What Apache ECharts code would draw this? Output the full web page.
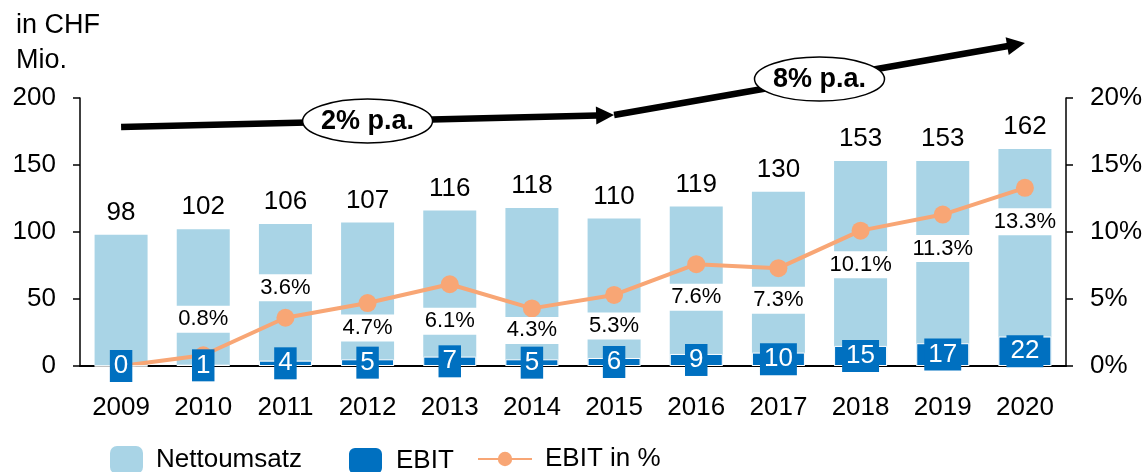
<!DOCTYPE html>
<html>
<head>
<meta charset="utf-8">
<script src="https://cdn.jsdelivr.net/npm/echarts@6/dist/echarts.min.js"></script>
<style>
    html, body { margin: 0; padding: 0; background: #fff; }
    #chart { width: 1148px; height: 472px; }
</style>
</head>
<body>
<div id="chart"></div>
<script>
var years = ['2009', '2010', '2011', '2012', '2013', '2014', '2015', '2016', '2017', '2018', '2019', '2020'];
var umsatz = [98, 102, 106, 107, 116, 118, 110, 119, 130, 153, 153, 162];
var ebit = [0, 1, 4, 5, 7, 5, 6, 9, 10, 15, 17, 22];
var ebitPct = [0, 0.8, 3.6, 4.7, 6.1, 4.3, 5.3, 7.6, 7.3, 10.1, 11.3, 13.3];

// trend arrows, in data units of the left axis
var trendLabels = ['2% p.a.', '8% p.a.'];
var trendFrom = [['2009', 178.4], ['2015', 187.3]];
var trendTo = [['2015', 187.3], ['2020', 241]];

// vertical shift of the % labels against their point (px)
var pctLabelShift = [0, -36, -30, 25, 37, 22, 31, 33, 32, 34, 34, 34];

var FONT = "'Liberation Sans', Arial, sans-serif";
var chart = echarts.init(document.getElementById('chart'));

var pctData = [];
for (var i = 0; i < ebitPct.length; i++) {
    pctData.push({
        value: ebitPct[i],
        label: {
            show: i > 0,
            position: 'inside',
            offset: [0, pctLabelShift[i]]
        }
    });
}

var legendText = { fontFamily: FONT, fontSize: 26, color: '#000', padding: [0, 0, 0, 8] };

var option = {
    animation: false,
    title: {
        text: 'in CHF\nMio.',
        left: 11,
        top: 3,
        textStyle: {
            fontFamily: FONT,
            fontSize: 27,
            fontWeight: 'normal',
            lineHeight: 35,
            color: '#000'
        }
    },
    grid: {
        top: 98,
        left: 80,
        right: 82,
        bottom: 106
    },
    legend: [{
        data: ['Nettoumsatz'],
        left: 105,
        top: 441,
        itemWidth: 33,
        itemHeight: 28,
        textStyle: legendText
    }, {
        data: ['EBIT'],
        left: 342,
        top: 441,
        itemWidth: 35,
        itemHeight: 28,
        textStyle: legendText
    }, {
        data: ['EBIT in %'],
        left: 472,
        top: 441,
        itemWidth: 54,
        itemHeight: 18,
        textStyle: legendText
    }],
    xAxis: {
        type: 'category',
        data: years,
        axisLine: { lineStyle: { color: '#000', width: 2 } },
        axisTick: { show: false },
        axisLabel: { fontFamily: FONT, fontSize: 26, color: '#000', margin: 29 }
    },
    yAxis: [{
        type: 'value',
        min: 0,
        max: 200,
        interval: 50,
        splitLine: { show: false },
        axisLine: { show: true, lineStyle: { color: '#000', width: 1.5 } },
        axisTick: { show: true, length: 7, lineStyle: { color: '#000', width: 1.5 } },
        axisLabel: { fontFamily: FONT, fontSize: 26, color: '#000', margin: 24 }
    }, {
        type: 'value',
        min: 0,
        max: 20,
        interval: 5,
        position: 'right',
        splitLine: { show: false },
        axisLine: { show: true, lineStyle: { color: '#000', width: 1.5 } },
        axisTick: { show: true, length: 7, lineStyle: { color: '#000', width: 1.5 } },
        axisLabel: { fontFamily: FONT, fontSize: 26, color: '#000', margin: 24, formatter: '{value}%' }
    }],
    series: [{
        name: 'Nettoumsatz',
        type: 'bar',
        z: 1,
        barWidth: 53,
        barGap: '-100%',
        data: umsatz,
        itemStyle: { color: '#A9D4E6' },
        label: {
            show: true,
            position: 'top',
            distance: 9,
            fontFamily: FONT,
            fontSize: 26,
            color: '#000'
        }
    }, {
        name: 'EBIT',
        type: 'bar',
        z: 4,
        barWidth: 53,
        barGap: '-100%',
        data: ebit,
        itemStyle: { color: '#0070C0', borderColor: '#fff', borderWidth: 1 },
        label: {
            show: true,
            position: 'inside',
            fontFamily: FONT,
            fontSize: 26,
            lineHeight: 26,
            color: '#fff',
            backgroundColor: '#0070C0',
            padding: [3, 4]
        }
    }, {
        name: 'EBIT in %',
        type: 'line',
        z: 3,
        yAxisIndex: 1,
        data: pctData,
        symbol: 'circle',
        symbolSize: 18,
        itemStyle: { color: '#F8A675' },
        lineStyle: { color: '#F8A675', width: 4 },
        label: {
            fontFamily: FONT,
            fontSize: 22,
            lineHeight: 23,
            color: '#000',
            backgroundColor: '#fff',
            padding: [2, 3],
            formatter: function (p) {
                return p.value.toFixed(1) + '%';
            }
        }
    }]
};

chart.setOption(option);

// arrows with oval labels, placed through the axes
function trendGraphic() {
    var els = [];
    for (var i = 0; i < trendLabels.length; i++) {
        var a = chart.convertToPixel({ xAxisIndex: 0, yAxisIndex: 0 }, trendFrom[i]);
        var b = chart.convertToPixel({ xAxisIndex: 0, yAxisIndex: 0 }, trendTo[i]);
        var dx = b[0] - a[0], dy = b[1] - a[1];
        var len = Math.sqrt(dx * dx + dy * dy);
        var ux = dx / len, uy = dy / len;
        var nx = -uy, ny = ux;
        var head = 18, half = 9;
        var bx = b[0] - ux * head, by = b[1] - uy * head;
        els.push({
            type: 'line',
            z: 50,
            shape: { x1: a[0], y1: a[1], x2: bx + ux, y2: by + uy },
            style: { stroke: '#000', lineWidth: 6.5 }
        });
        els.push({
            type: 'polygon',
            z: 50,
            shape: { points: [[b[0], b[1]], [bx + nx * half, by + ny * half], [bx - nx * half, by - ny * half]] },
            style: { fill: '#000' }
        });
        var cx = (a[0] + b[0]) / 2, cy = (a[1] + b[1]) / 2;
        els.push({
            type: 'ellipse',
            z: 51,
            shape: { cx: cx, cy: cy, rx: 65, ry: 22 },
            style: { fill: '#fff', stroke: '#000', lineWidth: 1.5 }
        });
        els.push({
            type: 'text',
            z: 52,
            style: {
                text: trendLabels[i],
                x: cx,
                y: cy + 1,
                align: 'center',
                verticalAlign: 'middle',
                fontFamily: FONT,
                fontSize: 27,
                fontWeight: 'bold',
                fill: '#000'
            }
        });
    }
    return els;
}

chart.setOption({ graphic: trendGraphic() });
</script>
</body>
</html>
